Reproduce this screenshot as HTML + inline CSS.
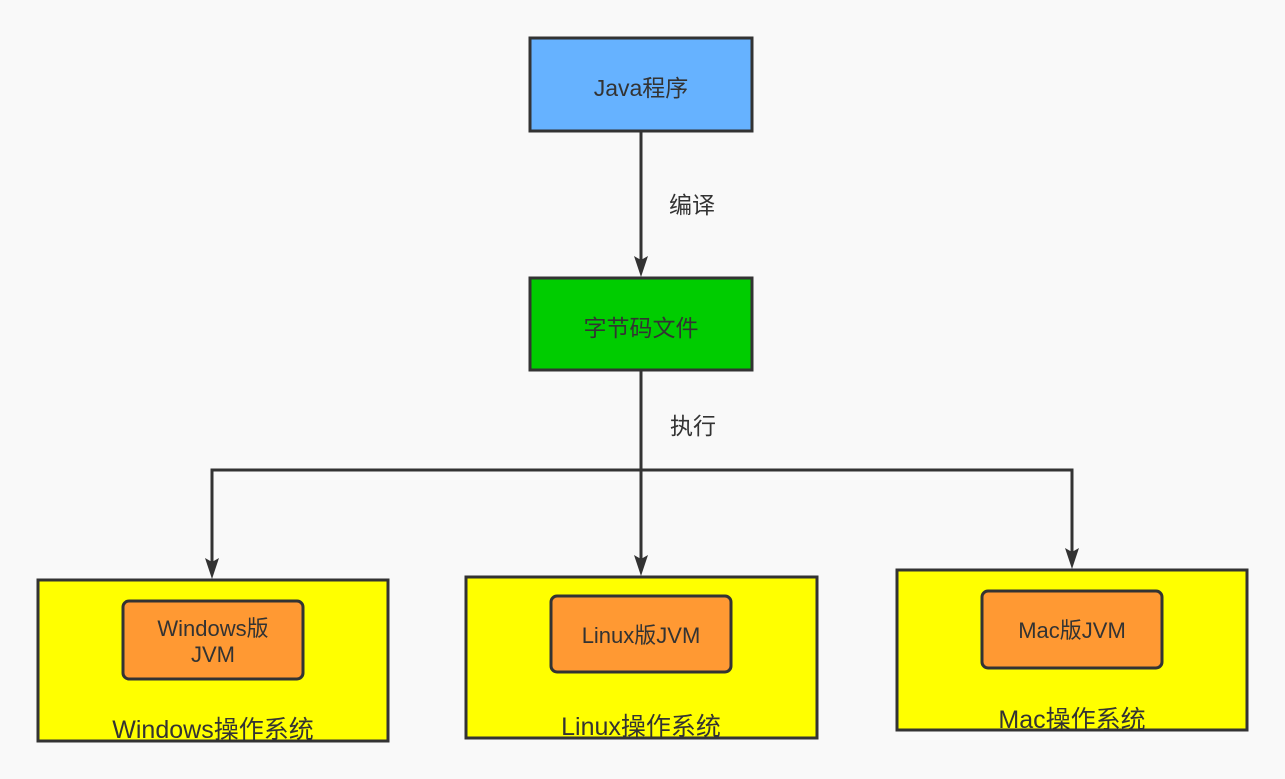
<!DOCTYPE html>
<html><head><meta charset="utf-8"><style>
html,body{margin:0;padding:0;background:#f9f9f9;}
svg{display:block;}
text{font-family:"Liberation Sans","Noto Sans CJK SC",sans-serif;fill:#333;}
</style></head><body>
<svg width="1285" height="779" viewBox="0 0 1285 779">
<rect x="0" y="0" width="1285" height="779" fill="#f9f9f9"/>
<g stroke="#333" stroke-width="3" fill="none">
<line x1="641" y1="132" x2="641" y2="262"/>
<line x1="641" y1="371" x2="641" y2="561"/>
<polyline points="212,564 212,470 1072,470 1072,554"/>
</g>
<g fill="#333">
<path d="M634,256 L641,260 L648,256 L641,277 Z"/>
<path d="M205,558 L212,562 L219,558 L212,579 Z"/>
<path d="M634,555 L641,559 L648,555 L641,576 Z"/>
<path d="M1065,548 L1072,552 L1079,548 L1072,569 Z"/>
</g>
<rect x="530" y="38" width="222" height="93" fill="#66b2ff" stroke="#333" stroke-width="3"/>
<text x="641" y="96" font-size="23" text-anchor="middle">Java程序</text>
<text x="692" y="213" font-size="23" text-anchor="middle">编译</text>
<rect x="530" y="278" width="222" height="92" fill="#00cc00" stroke="#333" stroke-width="3"/>
<text x="641" y="336" font-size="23" text-anchor="middle">字节码文件</text>
<text x="693" y="434" font-size="23" text-anchor="middle">执行</text>

<rect x="38" y="580" width="350" height="161" fill="#ffff00" stroke="#333" stroke-width="3"/>
<rect x="123" y="601" width="180" height="78" rx="6" fill="#ff9933" stroke="#333" stroke-width="3"/>
<text x="213" y="636" font-size="22" text-anchor="middle">Windows版</text>
<text x="213" y="662" font-size="22" text-anchor="middle">JVM</text>
<text x="213" y="738" font-size="25" text-anchor="middle">Windows操作系统</text>

<rect x="466" y="577" width="351" height="161" fill="#ffff00" stroke="#333" stroke-width="3"/>
<rect x="551" y="596" width="180" height="76" rx="6" fill="#ff9933" stroke="#333" stroke-width="3"/>
<text x="641" y="643" font-size="22" text-anchor="middle">Linux版JVM</text>
<text x="641" y="735" font-size="25" text-anchor="middle">Linux操作系统</text>

<rect x="897" y="570" width="350" height="160" fill="#ffff00" stroke="#333" stroke-width="3"/>
<rect x="982" y="591" width="180" height="77" rx="6" fill="#ff9933" stroke="#333" stroke-width="3"/>
<text x="1072" y="638" font-size="22" text-anchor="middle">Mac版JVM</text>
<text x="1072" y="728" font-size="25" text-anchor="middle">Mac操作系统</text>
</svg>
</body></html>
